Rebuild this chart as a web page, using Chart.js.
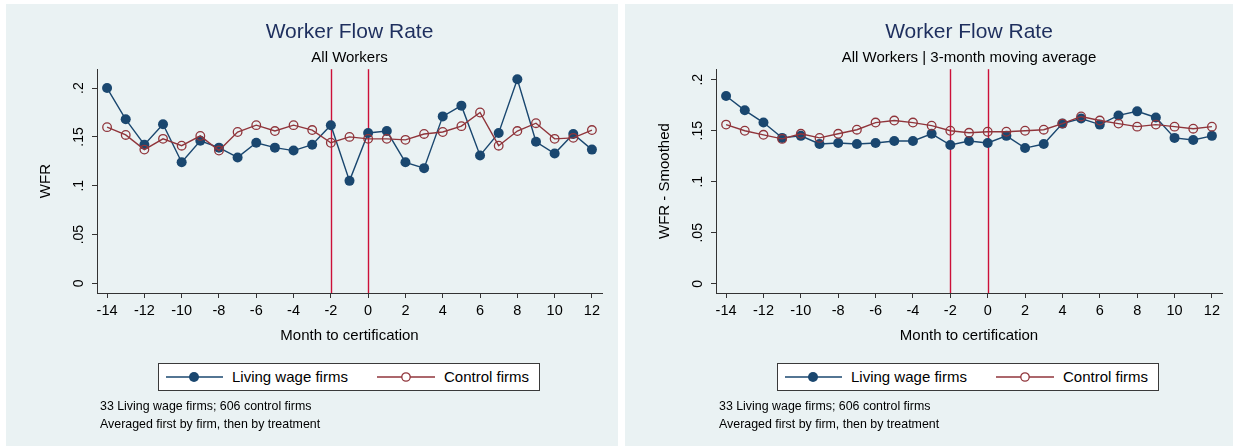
<!DOCTYPE html>
<html>
<head>
<meta charset="utf-8">
<script src="https://cdn.jsdelivr.net/npm/chart.js@4"></script>
<style>
  body { margin: 0; background: #fff; width: 1233px; height: 446px; overflow: hidden;
         font-family: "Liberation Sans", Arial, sans-serif; }
  .panel { position: absolute; top: 4px; height: 442px; background: #eaf2f3; }
  #p1 { left: 6px; width: 612px; }
  #p2 { left: 625px; width: 608px; }
  .panel canvas { position: absolute; left: 0; top: 0; }
  .legend { position: absolute; left: 152px; top: 359px; width: 380px; height: 26px;
            border: 1px solid #3a3a3a; background: #fff; }
  .legend svg { position: absolute; left: 0; top: 0; }
  .legend span { position: absolute; top: 4px; font-size: 15px; line-height: 18px; color: #000; white-space: nowrap; }
  .note { position: absolute; left: 94px; font-size: 12.4px; line-height: 14px; color: #000; white-space: nowrap; }
</style>
</head>
<body>
<div class="panel" id="p1">
  <canvas id="c1" width="612" height="442"></canvas>
</div>
<div class="panel" id="p2">
  <canvas id="c2" width="608" height="442"></canvas>
</div>
<script>
const months = [-14, -13, -12, -11, -10, -9, -8, -7, -6, -5, -4, -3, -2, -1, 0, 1, 2, 3, 4, 5, 6, 7, 8, 9, 10, 11, 12];

// WFR by month, raw
const livingRaw = [0.200, 0.168, 0.142, 0.163, 0.124, 0.146, 0.139, 0.129, 0.144, 0.139, 0.136, 0.142, 0.162,
                   0.105, 0.154, 0.156, 0.124, 0.118, 0.171, 0.182, 0.131, 0.154, 0.209, 0.145, 0.133, 0.153, 0.137];
const controlRaw = [0.160, 0.152, 0.137, 0.148, 0.141, 0.151, 0.136, 0.155, 0.162, 0.156, 0.162, 0.157, 0.144,
                    0.150, 0.148, 0.148, 0.147, 0.153, 0.155, 0.161, 0.175, 0.141, 0.156, 0.164, 0.148, 0.149, 0.157];

// 3-month moving average
const livingSmooth = [0.184, 0.170, 0.158, 0.143, 0.145, 0.137, 0.138, 0.137, 0.138, 0.140, 0.140, 0.147, 0.136,
                      0.140, 0.138, 0.145, 0.133, 0.137, 0.157, 0.162, 0.156, 0.165, 0.169, 0.163, 0.143, 0.141, 0.145];
const controlSmooth = [0.156, 0.150, 0.146, 0.142, 0.147, 0.143, 0.147, 0.151, 0.158, 0.160, 0.158, 0.155, 0.150,
                       0.148, 0.149, 0.149, 0.150, 0.151, 0.157, 0.164, 0.160, 0.157, 0.154, 0.156, 0.154, 0.152, 0.154];

const yTicks = [0, 0.05, 0.1, 0.15, 0.2];
const xTicks = [-14, -12, -10, -8, -6, -4, -2, 0, 2, 4, 6, 8, 10, 12];
const certLines = [-2, 0];

const FONT = '"Liberation Sans", Arial, sans-serif';
const NAVY = '#1a476f';
const MAROON = '#90353b';

const certLinePlugin = {
  id: 'certLines',
  beforeDatasetsDraw(chart) {
    const { ctx, chartArea, scales } = chart;
    ctx.save();
    ctx.strokeStyle = '#cc1038';
    ctx.lineWidth = 1.4;
    certLines.forEach(v => {
      const x = Math.round(scales.x.getPixelForValue(v)) + 0.5;
      ctx.beginPath();
      ctx.moveTo(x, chartArea.top);
      ctx.lineTo(x, chartArea.bottom);
      ctx.stroke();
    });
    ctx.restore();
  }
};

function yLabel(v) {
  if (v === 0) return '0';
  return String(v).replace(/^0/, '');
}

function drawPanel(canvasId, living, control, subtitle, yTitle, yMin, yMax, padRight) {
  const toPts = arr => months.map((m, i) => ({ x: m, y: arr[i] }));
  return new Chart(document.getElementById(canvasId), {
    type: 'line',
    data: {
      datasets: [{
        label: 'Living wage firms',
        data: toPts(living),
        borderColor: NAVY,
        backgroundColor: NAVY,
        borderWidth: 1.4,
        pointRadius: 5,
        pointBorderWidth: 0,
        pointBackgroundColor: NAVY,
        order: 1,
      }, {
        label: 'Control firms',
        data: toPts(control),
        borderColor: MAROON,
        borderWidth: 1.4,
        pointRadius: 4.3,
        pointBorderWidth: 1.3,
        pointBorderColor: MAROON,
        pointBackgroundColor: 'rgba(0,0,0,0)',
        order: 0,
      }],
    },
    options: {
      responsive: false,
      animation: false,
      layout: { padding: { left: 0, right: padRight, top: 0, bottom: 101 } },
      plugins: {
        legend: { display: false },
        tooltip: { enabled: false },
        title: {
          display: true, text: 'Worker Flow Rate', color: '#1e2f5e', fullSize: false,
          font: { family: FONT, size: 21, weight: 'normal' },
          padding: { top: 16, bottom: 0 },
        },
        subtitle: {
          display: true, text: subtitle, color: '#000', fullSize: false,
          font: { family: FONT, size: 15 },
          padding: { top: 4, bottom: 2 },
        },
      },
      scales: {
        x: {
          type: 'linear', min: -14.54, max: 12.54,
          afterBuildTicks: s => { s.ticks = xTicks.map(v => ({ value: v })); },
          afterFit: s => { s.height = 52; },
          grid: { drawOnChartArea: false, tickLength: 5, tickColor: '#333', tickWidth: 1 },
          border: { color: '#333', width: 1 },
          ticks: { color: '#000', font: { family: FONT, size: 14.5 }, padding: 4,
                   autoSkip: false, maxRotation: 0, callback: v => String(v) },
          title: { display: true, text: 'Month to certification', color: '#000',
                   font: { family: FONT, size: 15 }, padding: { top: 0, bottom: 0 } },
        },
        y: {
          min: yMin, max: yMax,
          afterBuildTicks: s => { s.ticks = yTicks.map(v => ({ value: v })); },
          afterFit: s => { s.width = 91; },
          grid: { color: '#eaf2f3', lineWidth: 1, tickLength: 5, tickColor: '#333' },
          border: { color: '#333', width: 1 },
          ticks: { color: '#000', font: { family: FONT, size: 14 }, padding: 3,
                   minRotation: 90, maxRotation: 90, crossAlign: 'center', callback: yLabel },
          title: { display: true, text: yTitle, color: '#000',
                   font: { family: FONT, size: 15 }, padding: { top: 31, bottom: 0 } },
        },
      },
    },
    plugins: [certLinePlugin],
  });
}

function addLegendAndNotes(panelId) {
  const p = document.getElementById(panelId);
  const lg = document.createElement('div');
  lg.className = 'legend';
  lg.innerHTML =
    '<svg width="380" height="26">' +
    '<line x1="7" y1="13" x2="64" y2="13" stroke="' + NAVY + '" stroke-width="1.4"/>' +
    '<circle cx="35" cy="13" r="5" fill="' + NAVY + '"/>' +
    '<line x1="218" y1="13" x2="276" y2="13" stroke="' + MAROON + '" stroke-width="1.4"/>' +
    '<circle cx="247" cy="13" r="4.2" fill="#fff" stroke="' + MAROON + '" stroke-width="1.3"/>' +
    '</svg>' +
    '<span style="left:73px">Living wage firms</span>' +
    '<span style="left:285px">Control firms</span>';
  p.appendChild(lg);
  const notes = ['33 Living wage firms; 606 control firms', 'Averaged first by firm, then by treatment'];
  notes.forEach((t, i) => {
    const d = document.createElement('div');
    d.className = 'note';
    d.style.top = (395 + i * 17.6) + 'px';
    d.textContent = t;
    p.appendChild(d);
  });
}

drawPanel('c1', livingRaw, controlRaw, 'All Workers', 'WFR', -0.0098, 0.2193, 16);
drawPanel('c2', livingSmooth, controlSmooth, 'All Workers | 3-month moving average', 'WFR - Smoothed', -0.009, 0.2103, 11);
addLegendAndNotes('p1');
addLegendAndNotes('p2');
</script>
</body>
</html>
